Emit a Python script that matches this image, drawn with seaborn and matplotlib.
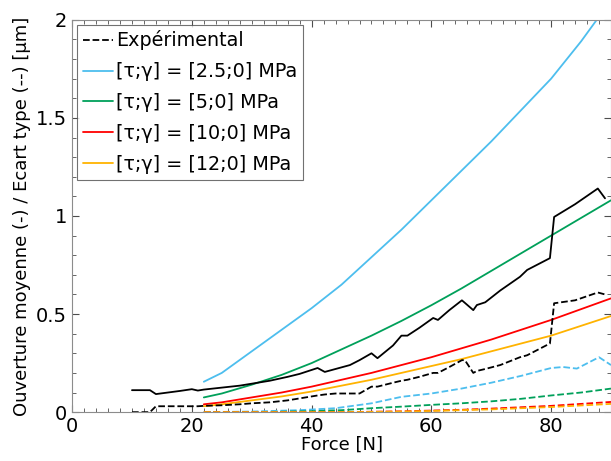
import numpy as np
import pandas as pd
import matplotlib
matplotlib.use('Agg')
import matplotlib.pyplot as plt
from matplotlib.lines import Line2D
from matplotlib.ticker import MultipleLocator
import seaborn as sns

# Données expérimentales (ouverture moyenne et écart type)
exp_force = [10, 13, 14, 16, 18, 20, 21, 22, 25, 28, 30, 33, 36, 38, 40, 41, 42.2, 44, 46.4, 48,
             50, 51, 53.6, 55, 56, 58, 60.3, 61.1, 63, 65.1, 65.6, 67, 67.6, 69, 71.5, 74.8, 76,
             79.8, 80.5, 84, 87.8, 89]
exp_mean = [0.112, 0.112, 0.092, 0.10, 0.108, 0.117, 0.11, 0.115, 0.125, 0.135, 0.145, 0.16, 0.18,
            0.195, 0.215, 0.225, 0.205, 0.22, 0.24, 0.265, 0.30, 0.275, 0.34, 0.39, 0.39, 0.43, 0.48,
            0.47, 0.52, 0.57, 0.557, 0.52, 0.546, 0.56, 0.62, 0.69, 0.725, 0.785, 0.995, 1.06, 1.14, 1.09]
exp_std = [0.0, 0.0, 0.03, 0.03, 0.03, 0.03, 0.03, 0.032, 0.035, 0.04, 0.045, 0.05, 0.06, 0.07, 0.08,
           0.085, 0.09, 0.095, 0.095, 0.095, 0.13, 0.13, 0.15, 0.16, 0.165, 0.18, 0.2, 0.2, 0.23,
           0.265, 0.265, 0.2, 0.21, 0.22, 0.24, 0.28, 0.29, 0.35, 0.555, 0.57, 0.61, 0.6]

# Simulations
sim_force = [22, 25, 30, 35, 40, 45, 50, 55, 60, 65, 70, 75, 80, 85, 90]
labels = ['[τ;γ] = [2.5;0] MPa', '[τ;γ] = [5;0] MPa', '[τ;γ] = [10;0] MPa', '[τ;γ] = [12;0] MPa']
colors = ['#4DBEEE', '#00A05A', '#FF0000', '#FFB300']

mean_25 = [0.155, 0.20, 0.31, 0.42, 0.53, 0.65, 0.79, 0.93, 1.08, 1.23, 1.38, 1.54, 1.70, 1.89, 2.10]
mean_5 = [0.075, 0.095, 0.14, 0.19, 0.25, 0.32, 0.39, 0.465, 0.545, 0.63, 0.72, 0.81, 0.90, 0.99, 1.08]
mean_10 = [0.04, 0.05, 0.075, 0.10, 0.13, 0.165, 0.20, 0.24, 0.28, 0.325, 0.37, 0.42, 0.47, 0.525, 0.58]
mean_12 = [0.03, 0.04, 0.06, 0.08, 0.105, 0.135, 0.165, 0.20, 0.235, 0.27, 0.31, 0.35, 0.39, 0.44, 0.49]

std_force_25 = [22, 30, 38, 44, 50, 55, 60, 65, 70, 75, 80, 82, 84.3, 88, 90]
std_25 = [0.0, 0.003, 0.01, 0.02, 0.045, 0.078, 0.095, 0.12, 0.15, 0.185, 0.225, 0.23, 0.222, 0.28, 0.24]
std_5 = [0, 0, 0, 0.002, 0.005, 0.01, 0.02, 0.028, 0.037, 0.045, 0.055, 0.068, 0.085, 0.10, 0.12]
std_10 = [0, 0, 0, 0, 0, 0, 0.002, 0.004, 0.008, 0.012, 0.018, 0.025, 0.032, 0.042, 0.052]
std_12 = [0, 0, 0, 0, 0, 0, 0.001, 0.003, 0.006, 0.01, 0.014, 0.02, 0.026, 0.034, 0.042]

sns.set_style('ticks')
plt.rcParams['font.family'] = ['DejaVu Sans']
plt.rcParams['text.color'] = 'black'
plt.rcParams['axes.labelcolor'] = 'black'
plt.rcParams['xtick.color'] = 'black'
plt.rcParams['ytick.color'] = 'black'

fig = plt.figure(figsize=(6.11, 4.61), dpi=100)
ax = fig.add_axes([0.118, 0.106, 0.882, 0.851])

lw = 1.3
# courbes simulées : moyenne (trait plein) et écart type (tirets)
means = [mean_25, mean_5, mean_10, mean_12]
stds = [(std_force_25, std_25), (sim_force, std_5), (sim_force, std_10), (sim_force, std_12)]
for i in range(4):
    sns.lineplot(x=stds[i][0], y=stds[i][1], color=colors[i], linestyle='--', lw=lw, ax=ax)
for i in range(4):
    sns.lineplot(x=sim_force, y=means[i], color=colors[i], lw=lw, ax=ax)

# expérimental
sns.lineplot(x=exp_force, y=exp_std, color='black', linestyle='--', lw=lw, ax=ax, sort=False)
sns.lineplot(x=exp_force, y=exp_mean, color='black', lw=lw, ax=ax, sort=False)

ax.set_xlim(0, 90)
ax.set_ylim(0, 2)
ax.xaxis.set_major_locator(MultipleLocator(20))
ax.xaxis.set_minor_locator(MultipleLocator(2))
ax.yaxis.set_minor_locator(MultipleLocator(0.1))
ax.set_yticks([0, 0.5, 1, 1.5, 2])
ax.set_yticklabels(['0', '0.5', '1', '1.5', '2'])
ax.tick_params(which='both', direction='in', top=True, right=True, labelsize=14)
ax.tick_params(which='both', color='0.3')
ax.tick_params(which='major', length=5)
ax.tick_params(which='minor', length=3)
for s in ax.spines.values():
    s.set_color('0.55')

ax.set_xlabel('Force [N]', fontsize=13, labelpad=0)
ax.set_ylabel('Ouverture moyenne (-) / Ecart type (--) [μm]', fontsize=13, labelpad=4)

handles = [Line2D([], [], color='black', linestyle='--', lw=lw)]
handles += [Line2D([], [], color=c, lw=lw) for c in colors]
leg = ax.legend(handles, ['Expérimental'] + labels, loc='upper left', fontsize=13.8,
                frameon=True, fancybox=False, handlelength=1.6, handletextpad=0.15,
                borderaxespad=0.25, borderpad=0.3, labelspacing=0.62)
leg.get_frame().set_edgecolor('0.3')
leg.get_frame().set_linewidth(0.8)

fig.savefig('out.png', dpi=100)
